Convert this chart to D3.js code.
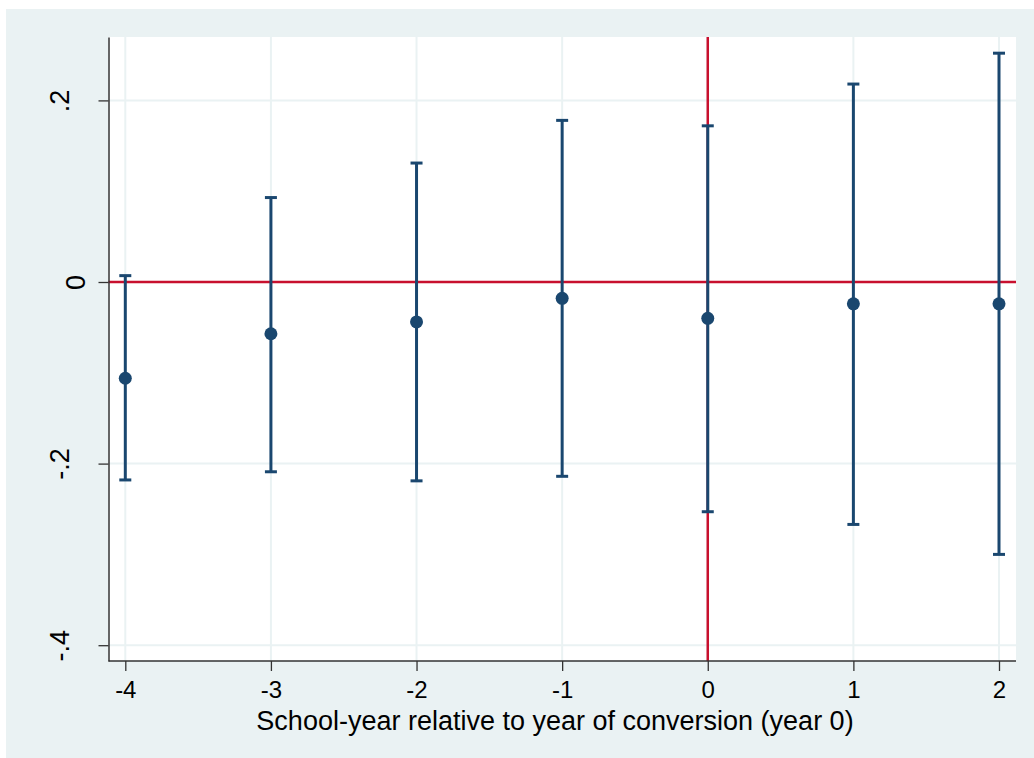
<!DOCTYPE html>
<html>
<head>
<meta charset="utf-8">
<script src="https://cdn.jsdelivr.net/npm/d3@7"></script>
<style>
  body { margin: 0; background: #fff; }
  svg { display: block; font-family: "Liberation Sans", Arial, sans-serif; }
</style>
</head>
<body>
<svg id="chart" width="1034" height="758"></svg>
<script>
// event-study coefficients
const years = [-4, -3, -2, -1, 0, 1, 2];
const coef = [-0.106, -0.057, -0.044, -0.018, -0.040, -0.024, -0.024];
const ciLow = [-0.218, -0.209, -0.219, -0.214, -0.253, -0.267, -0.300];
const ciHigh = [0.007, 0.093, 0.131, 0.178, 0.172, 0.218, 0.252];
const yTicks = [-0.4, -0.2, 0, 0.2];
const yTickLabels = ['-.4', '-.2', '0', '.2'];
const xTitle = 'School-year relative to year of conversion (year 0)';

const bg = '#eaf2f3';
const navy = '#1a476f';
const red = '#c8102e';

const plot = { left: 108.5, top: 37, right: 1016, bottom: 661 };

const svg = d3.select('#chart');

svg.append('rect')
  .attr('x', 6).attr('y', 9)
  .attr('width', 1034 - 6).attr('height', 758 - 9)
  .attr('fill', bg);

svg.append('rect')
  .attr('x', plot.left).attr('y', plot.top)
  .attr('width', plot.right - plot.left).attr('height', plot.bottom - plot.top)
  .attr('fill', '#fff');

const x = d3.scaleLinear().domain([-4, 2]).range([125.3, 999]);
const pxPerUnit = 908;
const y = d3.scaleLinear()
  .domain([-(plot.bottom - 282) / pxPerUnit, (282 - plot.top) / pxPerUnit])
  .range([plot.bottom, plot.top]);

// grid
const grid = svg.append('g');
grid.selectAll('.hg').data(yTicks.filter(d => d !== 0)).enter().append('line')
  .attr('x1', plot.left).attr('x2', plot.right)
  .attr('y1', d => y(d)).attr('y2', d => y(d))
  .attr('stroke', bg).attr('stroke-width', 2);
grid.selectAll('.vg').data(years).enter().append('line')
  .attr('x1', d => x(d)).attr('x2', d => x(d))
  .attr('y1', plot.top).attr('y2', plot.bottom)
  .attr('stroke', bg).attr('stroke-width', 2);

// reference lines
svg.append('line')
  .attr('x1', plot.left).attr('x2', plot.right)
  .attr('y1', y(0)).attr('y2', y(0))
  .attr('stroke', red).attr('stroke-width', 2.5);
svg.append('line')
  .attr('x1', x(0)).attr('x2', x(0))
  .attr('y1', plot.top).attr('y2', plot.bottom)
  .attr('stroke', red).attr('stroke-width', 2.5);

// axes
const yAxis = svg.append('g')
  .attr('transform', `translate(${plot.left},0)`)
  .call(d3.axisLeft(y).tickValues(yTicks).tickSize(10).tickSizeOuter(0)
    .tickFormat((d, i) => yTickLabels[i]));
yAxis.select('.domain').attr('stroke', '#333').attr('stroke-width', 1.5);
yAxis.selectAll('.tick line').attr('stroke', '#333').attr('stroke-width', 1.3);
yAxis.selectAll('.tick text')
  .attr('font-size', 27).attr('fill', '#000')
  .attr('text-anchor', 'middle')
  .attr('x', 0).attr('dy', 0)
  .attr('transform', (d, i) => `translate(${yTickLabels[i].includes('.') ? -47 : -31},0) rotate(-90)`)
  .attr('dominant-baseline', 'middle');

const xAxis = svg.append('g')
  .attr('transform', `translate(0,${plot.bottom})`)
  .call(d3.axisBottom(x).tickValues(years).tickSize(10).tickSizeOuter(0)
    .tickFormat(d3.format('d')));
xAxis.select('.domain').attr('stroke', '#333').attr('stroke-width', 1.5)
  .attr('d', `M${plot.left},0H${plot.right}`);
xAxis.selectAll('.tick line').attr('stroke', '#333').attr('stroke-width', 1.3);
xAxis.selectAll('.tick text')
  .attr('font-size', 24).attr('fill', '#000')
  .attr('y', 37).attr('dy', 0);
// use a plain hyphen-minus like the original
xAxis.selectAll('.tick text').text(d => String(d));

svg.append('text')
  .attr('x', 555)
  .attr('y', 730)
  .attr('text-anchor', 'middle')
  .attr('font-size', 27)
  .text(xTitle);

// error bars
const idx = d3.range(years.length);
const bars = svg.append('g');
bars.selectAll('.ci').data(idx).enter().append('line')
  .attr('x1', i => x(years[i])).attr('x2', i => x(years[i]))
  .attr('y1', i => y(ciLow[i])).attr('y2', i => y(ciHigh[i]))
  .attr('stroke', navy).attr('stroke-width', 3);
bars.selectAll('.capHi').data(idx).enter().append('line')
  .attr('x1', i => x(years[i]) - 6).attr('x2', i => x(years[i]) + 6)
  .attr('y1', i => y(ciHigh[i])).attr('y2', i => y(ciHigh[i]))
  .attr('stroke', navy).attr('stroke-width', 3);
bars.selectAll('.capLo').data(idx).enter().append('line')
  .attr('x1', i => x(years[i]) - 6).attr('x2', i => x(years[i]) + 6)
  .attr('y1', i => y(ciLow[i])).attr('y2', i => y(ciLow[i]))
  .attr('stroke', navy).attr('stroke-width', 3);

// point estimates
svg.append('g').selectAll('circle').data(idx).enter().append('circle')
  .attr('cx', i => x(years[i]))
  .attr('cy', i => y(coef[i]))
  .attr('r', 6.5)
  .attr('fill', navy);
</script>
</body>
</html>
